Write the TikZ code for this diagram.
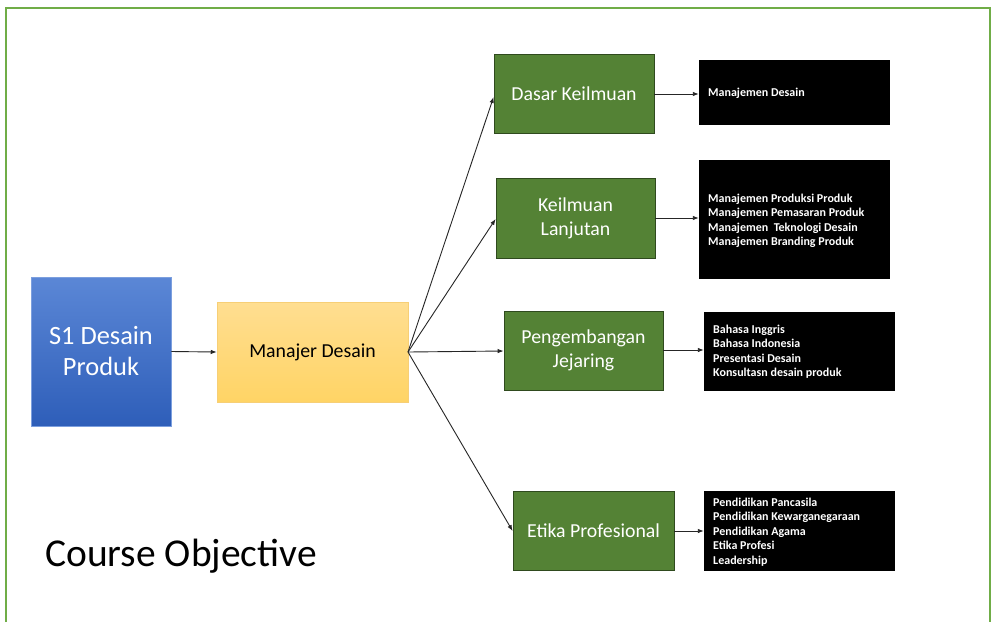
\documentclass[tikz,border=0pt]{standalone}
\usepackage{fontspec}
\setmainfont{Carlito}
\usetikzlibrary{arrows.meta}
\definecolor{frameg}{HTML}{70AD47}
\definecolor{boxg}{HTML}{548235}
\definecolor{boxgd}{HTML}{2F4A1E}
\definecolor{bluet}{HTML}{5B87D6}
\definecolor{blueb}{HTML}{2E5EB9}
\definecolor{yelt}{HTML}{FFDE91}
\definecolor{yelb}{HTML}{FFD465}
\definecolor{yeld}{HTML}{F7CF76}
\tikzset{
  px/.style={x=1pt,y=-1pt},
  greenbox/.style={draw=boxgd,line width=0.8pt,fill=boxg,text=white,font=\fontsize{19.8}{24}\selectfont,align=center,inner sep=0pt},
  blacktext/.style={text=white,font=\bfseries\fontsize{12}{14.6}\selectfont,align=left,inner sep=0pt,anchor=base west},
  blackrect/.style={fill=black,inner sep=0pt},
  conn/.style={-{Latex[length=6pt,width=4.5pt]},line width=0.9pt,black!85},
}
\begin{document}
\begin{tikzpicture}[px]
\useasboundingbox (0,0) rectangle (995,622);
\fill[white] (0,0) rectangle (995,622);
\draw[frameg,line width=2.2pt] (6,622) -- (6,8) -- (990,8) -- (990,622);
% main boxes
\node[minimum width=140pt,minimum height=149pt,inner sep=0pt,top color=bluet,bottom color=blueb,draw=bluet!80,line width=0.5pt,text=white,font=\fontsize{26.4}{31}\selectfont,align=center] (s1) at (101,351.5) {S1 Desain\\Produk};
\node[minimum width=191pt,minimum height=100pt,inner sep=0pt,top color=yelt,bottom color=yelb,draw=yeld,line width=0.5pt,font=\fontsize{19.8}{24}\selectfont] (md) at (312.5,352) {Manajer Desain};
% green boxes
\node[greenbox,minimum width=160pt,minimum height=79pt] (dk) at (574,93.5) {Dasar Keilmuan};
\node[greenbox,minimum width=159pt,minimum height=80pt] (kl) at (575.5,218) {Keilmuan\\Lanjutan};
\node[greenbox,minimum width=159pt,minimum height=79pt] (pj) at (583.5,350.5) {Pengembangan\\Jejaring};
\node[greenbox,minimum width=161pt,minimum height=79pt] (ep) at (593.5,530.5) {Etika Profesional};
% black boxes
\node[blackrect,minimum width=191pt,minimum height=65pt] (b1) at (794.5,92.5) {};
\node[blacktext] (t1) at (708,96) {Manajemen Desain};
\node[blackrect,minimum width=191pt,minimum height=119pt] (b2) at (794.5,219.5) {};
\node[blacktext] (t2) at (708,245.8) {Manajemen Produksi Produk\\Manajemen Pemasaran Produk\\Manajemen\ \ Teknologi Desain\\Manajemen Branding Produk};
\node[blackrect,minimum width=191pt,minimum height=79pt] (b3) at (799.5,351.5) {};
\node[blacktext] (t3) at (713,376.8) {Bahasa Inggris\\Bahasa Indonesia\\Presentasi Desain\\Konsultasn desain produk};
\node[blackrect,minimum width=191pt,minimum height=80pt] (b4) at (799.5,531) {};
\node[blacktext] (t4) at (713,564.4) {Pendidikan Pancasila\\Pendidikan Kewarganegaraan\\Pendidikan Agama\\Etika Profesi\\Leadership};
% title
\node[anchor=base west,inner sep=0pt,font=\fontsize{39.5}{45}\selectfont] (title) at (45,566) {Course Objective};
% connectors
\coordinate (mdr) at (408,352);
\draw[conn] (s1.east) -- (md.west);
\draw[conn] (mdr) -- (dk.west |- 0,97);
\draw[conn] (mdr) -- (kl.west |- 0,219);
\draw[conn] (mdr) -- (pj.west |- 0,351);
\draw[conn] (mdr) -- (ep.west |- 0,531);
\draw[conn] (dk.east |- 0,94) -- (b1.west |- 0,94);
\draw[conn] (kl.east |- 0,218) -- (b2.west |- 0,218);
\draw[conn] (pj.east |- 0,350) -- (b3.west |- 0,350);
\draw[conn] (ep.east |- 0,531) -- (b4.west |- 0,531);
\end{tikzpicture}
\end{document}
